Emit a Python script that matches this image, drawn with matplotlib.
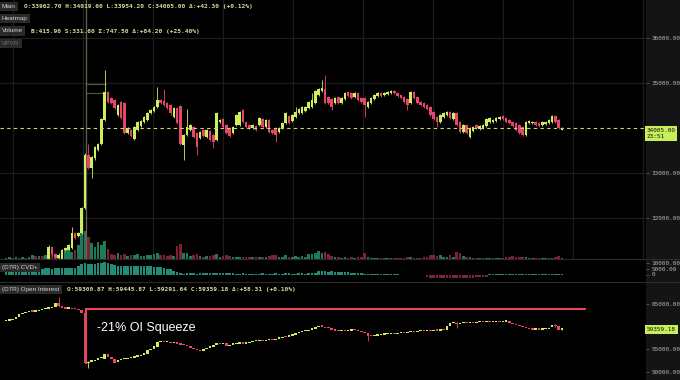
import numpy as np
import matplotlib
matplotlib.use("Agg")
import matplotlib.pyplot as plt
from matplotlib.patches import Rectangle
from matplotlib.lines import Line2D
import matplotlib.transforms as mtrans

# ---------------- data ----------------
price_open = [30600, 30650, 30700, 30680, 30780, 30720, 30820, 30800, 30880, 30920, 30900, 30980, 30960,
              31050, 31350, 31200, 31120, 31100, 31290, 31300, 31330, 31670, 31600, 31670, 32220,
              33400, 33110, 33330, 33510, 33640, 34180, 34800, 34670, 34620, 34290, 34580, 34560, 33890, 33960,
              33760, 33960, 34040, 34130, 34180, 34330, 34380, 34470, 34620, 34600, 34560, 34510, 34240, 34440,
              34500, 33620, 33840, 33960, 34020, 33890, 33780, 33960, 33800, 33930, 33840, 33730, 34130, 34200,
              34070, 34000, 33890, 34070, 34070, 34400, 34130, 34070, 34000, 34040, 34070, 34200, 34020, 34180,
              33960, 34000, 33910, 34000, 34110, 34270, 34160, 34240, 34330, 34330, 34380, 34440, 34470, 34560,
              34730, 34820, 34870, 34690, 34640, 34560, 34690, 34560, 34640, 34800, 34780, 34690, 34780, 34670,
              34670, 34470, 34560, 34640, 34710, 34780, 34730, 34760, 34780, 34820, 34780, 34730, 34690, 34640,
              34560, 34800, 34690, 34580, 34560, 34510, 34470, 34360, 34240, 34130, 34240, 34290, 34360, 34200,
              34330, 34130, 33910, 34070, 33800, 33930, 34070, 33980, 34000, 34040, 34130, 34130, 34160, 34200,
              34270, 34220, 34180, 34130, 34110, 34070, 34020, 33840, 34110, 34110, 34130, 34110, 34070, 34090,
              34110, 34130, 34270, 34180, 33962.7]
price_high = [30680, 30720, 30760, 30800, 30820, 30850, 30880, 30900, 30960, 30980, 31000, 31040, 31080,
              31400, 31380, 31230, 31220, 31320, 31360, 31430, 31800, 31700, 31690, 32250, 33450,
              33650, 33380, 33600, 33670, 34230, 35290, 34830, 34700, 34650, 34530, 34600, 34580, 34020, 33980,
              34040, 34150, 34180, 34260, 34350, 34420, 34490, 34910, 34650, 34870, 34580, 34530, 34460, 34460,
              34520, 33860, 34420, 34090, 34040, 33910, 33930, 33980, 33980, 33950, 33860, 34350, 34200, 34220,
              34090, 34020, 34040, 34310, 34380, 34420, 34150, 34090, 34090, 34060, 34240, 34220, 34200, 34200,
              33980, 34020, 34020, 34130, 34350, 34290, 34310, 34470, 34440, 34490, 34490, 34600, 34780, 34840,
              34890, 35070, 35180, 34710, 34660, 34690, 34710, 34690, 34800, 34820, 34800, 34800, 34800, 34690,
              34690, 34600, 34690, 34750, 34800, 34800, 34800, 34820, 34840, 34840, 34800, 34750, 34710, 34660,
              34820, 34820, 34710, 34600, 34580, 34530, 34490, 34380, 34260, 34310, 34350, 34380, 34380, 34350,
              34350, 34150, 34090, 34090, 34020, 34040, 34090, 34060, 34090, 34220, 34240, 34200, 34240, 34260,
              34290, 34240, 34200, 34150, 34130, 34090, 34040, 34150, 34180, 34160, 34150, 34130, 34150, 34150,
              34200, 34290, 34290, 34200, 34019.6]
price_low = [30550, 30600, 30640, 30660, 30700, 30700, 30780, 30760, 30840, 30860, 30880, 30920, 30940,
             31020, 31150, 31080, 31090, 31080, 31270, 31280, 31310, 31540, 31580, 31640, 32200,
             33080, 32890, 33300, 33490, 33620, 34150, 34550, 34530, 34420, 34270, 34200, 33870, 33870, 33800,
             33730, 33940, 34020, 34110, 34160, 34310, 34360, 34450, 34540, 34490, 34420, 34300, 34220, 34090,
             33620, 33290, 33820, 33940, 33780, 33400, 33760, 33800, 33780, 33710, 33560, 33710, 34110, 34000,
             33870, 33800, 33870, 34050, 34050, 34110, 34000, 33980, 33980, 33940, 34050, 34000, 34000, 33890,
             33870, 33690, 33890, 33980, 34090, 34090, 34140, 34220, 34310, 34310, 34360, 34420, 34450, 34540,
             34710, 34800, 34540, 34540, 34400, 34540, 34540, 34540, 34620, 34690, 34650, 34670, 34600, 34560,
             34240, 34450, 34540, 34620, 34690, 34690, 34710, 34740, 34760, 34760, 34690, 34650, 34560, 34400,
             34540, 34650, 34540, 34490, 34450, 34400, 34270, 34180, 34020, 34110, 34220, 34270, 34200, 34180,
             34050, 33890, 33890, 33870, 33780, 33910, 33980, 33960, 33980, 34020, 34110, 34110, 34140, 34180,
             34180, 34110, 34090, 34020, 33940, 33870, 33820, 33820, 34090, 34090, 34050, 34020, 34050, 34070,
             34090, 34110, 34110, 33980, 33954.2]
price_close = [30650, 30700, 30680, 30780, 30720, 30820, 30800, 30880, 30920, 30900, 30980, 30960, 31050,
               31350, 31200, 31120, 31180, 31290, 31330, 31400, 31670, 31560, 31670, 32220, 33400,
               33110, 33360, 33580, 33640, 34200, 34800, 34580, 34560, 34440, 34510, 34220, 33890, 34000, 33820,
               34020, 34130, 34160, 34240, 34330, 34400, 34470, 34620, 34560, 34510, 34440, 34330, 34440, 34110,
               33640, 33840, 34020, 34070, 33800, 33580, 33910, 33820, 33960, 33730, 33690, 34330, 34180, 34020,
               33890, 33820, 34020, 34290, 34360, 34130, 34020, 34000, 34070, 33960, 34220, 34020, 34180, 33910,
               33890, 33840, 34000, 34110, 34330, 34110, 34290, 34360, 34420, 34470, 34470, 34580, 34620, 34820,
               34870, 34890, 34560, 34560, 34470, 34670, 34560, 34670, 34780, 34710, 34670, 34780, 34620, 34580,
               34510, 34580, 34670, 34730, 34780, 34710, 34780, 34800, 34820, 34780, 34710, 34670, 34580, 34510,
               34800, 34670, 34560, 34510, 34470, 34420, 34290, 34200, 34130, 34290, 34330, 34360, 34220, 34330,
               34070, 33910, 34070, 33890, 34000, 34020, 34000, 34040, 34070, 34200, 34220, 34180, 34220, 34240,
               34200, 34130, 34110, 34040, 33960, 33890, 33840, 34130, 34160, 34140, 34070, 34040, 34130, 34130,
               34180, 34270, 34130, 34000, 34005.0]

volume = [60, 80, 50, 100, 70, 90, 60, 100, 200, 150, 140, 160, 180,
          400, 250, 150, 200, 300, 500, 600, 350, 450, 700, 1300, 1400,
          1100, 800, 600, 850, 700, 900, 500, 250, 200, 300, 200, 250, 150, 180,
          200, 250, 150, 150, 200, 200, 250, 300, 200, 180, 160, 180, 150, 650,
          750, 280, 300, 150, 200, 250, 150, 120, 130, 150, 180, 250, 120, 150,
          200, 150, 100, 120, 100, 120, 100, 80, 90, 100, 80, 100, 90, 150,
          200, 220, 100, 120, 200, 100, 120, 130, 100, 150, 120, 250, 250, 300,
          400, 280, 350, 250, 150, 100, 80, 60, 100, 60, 80, 70, 80, 100,
          300, 80, 60, 50, 60, 50, 60, 50, 60, 50, 60, 50, 70, 80,
          90, 60, 70, 60, 80, 100, 200, 220, 150, 180, 100, 80, 200, 100,
          350, 300, 150, 120, 100, 60, 50, 60, 50, 70, 50, 40, 50, 40,
          60, 80, 100, 150, 120, 80, 100, 80, 50, 40, 50, 40, 50, 40,
          50, 60, 80, 150, 60]

cvd = [4000, 4200, 4000, 4300, 4100, 4400, 4300, 4500, 4700, 4800, 5000, 4900, 5100,
       5200, 5000, 5300, 5100, 5200, 5400, 5800, 5600, 5700, 7200, 8800, 9400,
       9200, 9000, 9300, 9600, 9800, 10300, 10000, 9200, 7800, 7500, 7200, 7000, 7100, 6900,
       7000, 7200, 7100, 6900, 7000, 6800, 6600, 6300, 6000, 5500, 5000, 4600, 3000, 2400,
       1000, 800, 1000, 900, 1100, 800, 900, 1000, 1200, 900, 1000, 1500, 1600, 1400,
       1500, 1300, 900, 800, 700, 900, 800, 700, 600, 800, 700, 900, 800, 700,
       800, 900, 700, 800, 1000, 900, 800, 700, 900, 1000, 800, 900, 1200, 1500,
       2600, 2800, 2600, 2400, 2600, 2200, 2000, 1800, 1900, 1700, 1600, 1500, 1600, 1400,
       300, 200, 150, 250, 200, 150, 100, 200, 150, 100, 150, -300, -400, -500,
       -400, -500, -400, -300, -500, -2000, -2600, -2800, -3000, -3200, -3000, -3100, -2900, -3200,
       -3000, -2800, -2900, -3000, -2700, -2600, -2500, -2400, -2200, -2000, 500, 600, 500, 400,
       500, 600, 500, 400, 500, 300, 400, 300, 400, 300, 500, 400, 300, 400,
       500, 800, 700, 400, 300]

oi_open = [61200, 61300, 61400, 61600, 62200, 62700, 62900, 63200, 63400, 63300, 63500, 63700, 63900,
           64000, 64100, 64400, 65300, 64500, 64200, 64000, 64100, 63900, 63800, 63700, 63100,
           51900, 52200, 52400, 52600, 52900, 52800, 53800, 53300, 52700, 52200, 52500, 52700, 52800, 53000,
           53100, 53300, 53400, 53600, 54000, 54800, 55100, 55500, 56500, 56800, 56500, 56600, 56400, 56500,
           56200, 56000, 55900, 55600, 55300, 55000, 54700, 54600, 55000, 55300, 55400, 55800, 56300, 56100,
           56400, 55700, 56000, 56100, 56200, 56300, 56200, 56400, 56500, 56700, 56800, 56900, 56800, 57000,
           57100, 57000, 57300, 57500, 57700, 57600, 58000, 58100, 58500, 58700, 58900, 59000, 59300, 59500,
           59800, 60200, 60000, 59700, 59600, 59300, 59100, 59000, 59100, 59000, 59100, 59300, 59200, 58900,
           58800, 58500, 58000, 57900, 58000, 58100, 58200, 58300, 58400, 58500, 58400, 58600, 58700, 58600,
           58800, 58900, 58700, 58900, 59000, 58900, 59100, 59000, 59200, 59100, 59300, 59200, 60100, 60700,
           60800, 60500, 60700, 60900, 60800, 60900, 60800, 60900, 61000, 60900, 61000, 60900, 61000, 61100,
           61000, 61100, 61300, 60800, 60500, 60300, 60100, 59800, 59600, 59400, 59300, 59400, 59300, 59400,
           59500, 59800, 60400, 60100, 59300.87]
oi_close = [61300, 61400, 61600, 62200, 62700, 62900, 63200, 63400, 63300, 63500, 63700, 63900, 64000,
            64100, 64400, 65300, 64500, 64200, 64000, 64100, 63900, 63800, 63700, 63100, 51900,
            52200, 52400, 52600, 52900, 53100, 53800, 53300, 52700, 52000, 52500, 52700, 52800, 53000, 53100,
            53300, 53400, 53600, 54000, 54800, 55100, 55600, 56500, 56800, 56500, 56600, 56400, 56500, 56200,
            56000, 55900, 55600, 55300, 55000, 54700, 54600, 55000, 55300, 55400, 55800, 56300, 56100, 56400,
            55700, 56000, 56100, 56200, 56300, 56200, 56400, 56500, 56700, 56800, 56900, 56800, 57000, 57100,
            57000, 57300, 57500, 57700, 57600, 58000, 58100, 58500, 58700, 58900, 59000, 59300, 59500, 59800,
            60200, 60000, 59700, 59600, 59300, 59100, 59000, 59100, 59000, 59100, 59300, 59200, 58900, 58800,
            58500, 58000, 57900, 58000, 58100, 58200, 58300, 58400, 58500, 58400, 58600, 58700, 58600, 58800,
            58900, 58700, 58900, 59000, 58900, 59100, 59000, 59200, 59100, 59300, 59200, 60100, 60700, 60800,
            60500, 60700, 60900, 60800, 60900, 60800, 60900, 61000, 60900, 61000, 60900, 61000, 61100, 61000,
            61100, 61300, 60800, 60500, 60300, 60100, 59800, 59600, 59400, 59300, 59400, 59300, 59400, 59500,
            59700, 60400, 60100, 59300, 59359.18]
oi_wick_idx = [16, 25, 110, 137, 167, 169]
oi_wick_high = [66600, 52300, 58600, 60900, 60600, 59445.87]
oi_wick_low = [64400, 50700, 56800, 59700, 60000, 59291.64]

squeeze_top = 63900
squeeze_bottom = 51900
squeeze_label = "-21% OI Squeeze"

main_header = "O:33962.70 H:34019.60 L:33954.20 C:34005.00 \u0394:+42.30 (+0.12%)"
volume_header = "B:415.90 S:331.60 \u03a3:747.50 \u0394:+84.20 (+25.40%)"
oi_header = "O:59300.87 H:59445.87 L:59291.64 C:59359.18 \u0394:+58.31 (+0.10%)"
last_price = 34005.00
last_oi = 59359.18
countdown = "23:51"
price_ticks = [32000, 33000, 35000, 36000]
cvd_ticks = [0, 5000, 10000]
oi_ticks = [50000, 55000, 65000]

# ---------------- style ----------------
UP = '#cdef5c'
DOWN = '#e8456b'
VOL_UP = '#1f7a57'
VOL_DN = '#7d2236'
CVD_UP = '#2a9a84'
CVD_DN = '#8c2a45'
GRID = '#1d1d1d'
PANEL = '#141414'
MONO = 'DejaVu Sans Mono'
SANS = 'Liberation Sans'

W, H = 680, 380
fig = plt.figure(figsize=(W / 100, H / 100), dpi=100, facecolor='black')


def rect(x0, y0, x1, y1):
    return [x0 / W, 1 - y1 / H, (x1 - x0) / W, (y1 - y0) / H]


def px(x, y):
    return x / W, 1 - y / H


fig.add_artist(Rectangle((646 / W, 0), 34 / W, 1, transform=fig.transFigure,
                         facecolor=PANEL, edgecolor='none', zorder=0))

n = len(price_close)
idx = np.arange(n)
# candle i sits at pixel 6 + 3.29 i
step = 3.29
xlim = (-6 / step, (646 - 6) / step)
bw = 0.78


def draw_candles(ax, o, h, l, c, min_h, lw=0.6):
    o = np.asarray(o, float); c = np.asarray(c, float)
    h = np.asarray(h, float); l = np.asarray(l, float)
    up = c >= o
    cols = np.where(up, UP, DOWN)
    ax.vlines(idx, l, h, colors=cols, linewidth=lw, zorder=3)
    bottom = np.minimum(o, c)
    height = np.maximum(np.abs(c - o), min_h)
    ax.bar(idx, height, bw, bottom=bottom, color=cols, linewidth=0, zorder=4)
    return up


def style_axis(ax):
    ax.set_facecolor('none')
    for s in ax.spines.values():
        s.set_visible(False)
    ax.set_xlim(*xlim)
    ax.set_xticks([])
    ax.yaxis.tick_right()
    ax.tick_params(axis='y', direction='out', length=2.5, width=0.6, color='#555555',
                   pad=1.5, labelsize=4.3, labelcolor='#b4b4b4')


# ---- volume layer (below) ----
ax_vol = fig.add_axes(rect(0, 0, 646, 259))
ax_vol.set_facecolor('black')
for s in ax_vol.spines.values():
    s.set_visible(False)
ax_vol.set_xlim(*xlim)
ax_vol.set_ylim(0, 12950)
up_main = np.asarray(price_close) >= np.asarray(price_open)
ax_vol.bar(idx, volume, 0.8, color=np.where(up_main, VOL_UP, VOL_DN), linewidth=0)
grid_x = [(13 - 6) / step + k * 70 / step for k in range(10)]
for gx in grid_x:
    ax_vol.axvline(gx, color=GRID, lw=0.9, zorder=0)
ax_vol.set_xticks([]); ax_vol.set_yticks([])

# ---- main price ----
ax = fig.add_axes(rect(0, 0, 646, 259))
style_axis(ax)
p_top = 34000 + 128 / 0.045
p_bot = 34000 - (259 - 128) / 0.045
ax.set_ylim(p_bot, p_top)
ax.set_yticks(price_ticks)
ax.set_yticklabels([f"{v:.2f}" for v in price_ticks], fontfamily=MONO)
for v in price_ticks:
    ax.axhline(v, color=GRID, lw=0.9, zorder=0)
draw_candles(ax, price_open, price_high, price_low, price_close, 25)
ax.axhline(last_price, color='#c9d878', lw=0.8, ls=(0, (3, 3)), zorder=5)
# crosshair
cx = (86 - 6) / step
ax.axvline(cx, color='#66644c', lw=0.9, zorder=2)
ax.hlines([34980, 34780], cx, cx + 6, color='#55543f', lw=0.8, zorder=2)
trans_main = mtrans.blended_transform_factory(ax.transAxes, ax.transData)
ax.text(1.0015, last_price, f"{last_price:.2f}\n{countdown}", transform=trans_main,
        ha='left', va='top', fontsize=4.3, fontfamily=MONO, color='#111111',
        linespacing=1.35, clip_on=False, zorder=10,
        bbox=dict(boxstyle='square,pad=0.25', fc='#c6ef5a', ec='none'))

# ---- CVD ----
ax_c = fig.add_axes(rect(0, 259, 646, 282))
style_axis(ax_c)
c_top = (274.5 - 259) / 1.18 * 1000
c_bot = -(282 - 274.5) / 1.18 * 1000
ax_c.set_ylim(c_bot, c_top)
cv = np.asarray(cvd, float)
ax_c.bar(idx, cv, 0.8, color=np.where(cv >= 0, CVD_UP, CVD_DN), linewidth=0, alpha=0.9)
ax_c.set_yticks(cvd_ticks)
ax_c.set_yticklabels(["0", "5000.00", "10000.00"], fontfamily=MONO)

# ---- Open interest ----
ax_o = fig.add_axes(rect(0, 282, 646, 380))
style_axis(ax_o)
o_top = 65000 + (304 - 282) / 4.5 * 1000
o_bot = 65000 - (380 - 304) / 4.5 * 1000
ax_o.set_ylim(o_bot, o_top)
ax_o.set_yticks(oi_ticks)
ax_o.set_yticklabels([f"{v:.2f}" for v in oi_ticks], fontfamily=MONO)
oc = np.asarray(oi_close); oo = np.asarray(oi_open)
wick_cols = [UP if oc[i] >= oo[i] else DOWN for i in oi_wick_idx]
ax_o.vlines(oi_wick_idx, oi_wick_low, oi_wick_high, colors=wick_cols, linewidth=0.6, zorder=3)
ax_o.bar(idx, np.maximum(np.abs(oc - oo), 260), bw, bottom=np.minimum(oo, oc),
         color=np.where(oc >= oo, UP, DOWN), linewidth=0, zorder=4)
sx0 = (86 - 6) / step
sx1 = (585 - 6) / step
ax_o.plot([sx0, sx0, sx1], [squeeze_bottom, squeeze_top, squeeze_top], color='#e8465c',
          lw=1.5, solid_joinstyle='miter', zorder=6)
ax_o.text((97 - 6) / step, 59650, squeeze_label, color='white', fontsize=9.0,
          fontfamily=SANS, va='center', ha='left', zorder=7)
trans_oi = mtrans.blended_transform_factory(ax_o.transAxes, ax_o.transData)
ax_o.text(1.0015, last_oi, f"{last_oi:.2f}", transform=trans_oi, ha='left', va='center',
          fontsize=4.3, fontfamily=MONO, color='#111111', clip_on=False, zorder=10,
          bbox=dict(boxstyle='square,pad=0.3', fc='#c6ef5a', ec='none'))

# ---- separators ----
for yy in (259, 282):
    fig.add_artist(Line2D([0, 1], [1 - yy / H] * 2, transform=fig.transFigure,
                          color='#2b2b2b', lw=0.8, zorder=1))


# ---- legend / header boxes ----
def box(x, y, s, color='#d2d2d2'):
    fig.text(*px(x, y), s, ha='left', va='center', fontsize=4.6, fontfamily=SANS,
             color=color, zorder=20,
             bbox=dict(boxstyle='square,pad=0.35', fc='#2a2a2a', ec='none'))


box(2, 6.5, "Main")
box(2, 18.5, "Heatmap")
box(2, 31, "Volume")
box(2, 43.5, "VPVR", color='#6e6e6e')
box(2, 267.5, "(D7R) CVD+")
box(2, 289.5, "(D7R) Open Interest")
hdr = dict(ha='left', va='center', fontsize=4.5, fontfamily=MONO, color='#dcd89c',
           fontweight='bold', zorder=20)
fig.text(*px(24, 6.5), main_header, **hdr)
fig.text(*px(31, 31), volume_header, **hdr)
fig.text(*px(67, 289.5), oi_header, **hdr)

fig.savefig('out.png', dpi=100, facecolor='black')
